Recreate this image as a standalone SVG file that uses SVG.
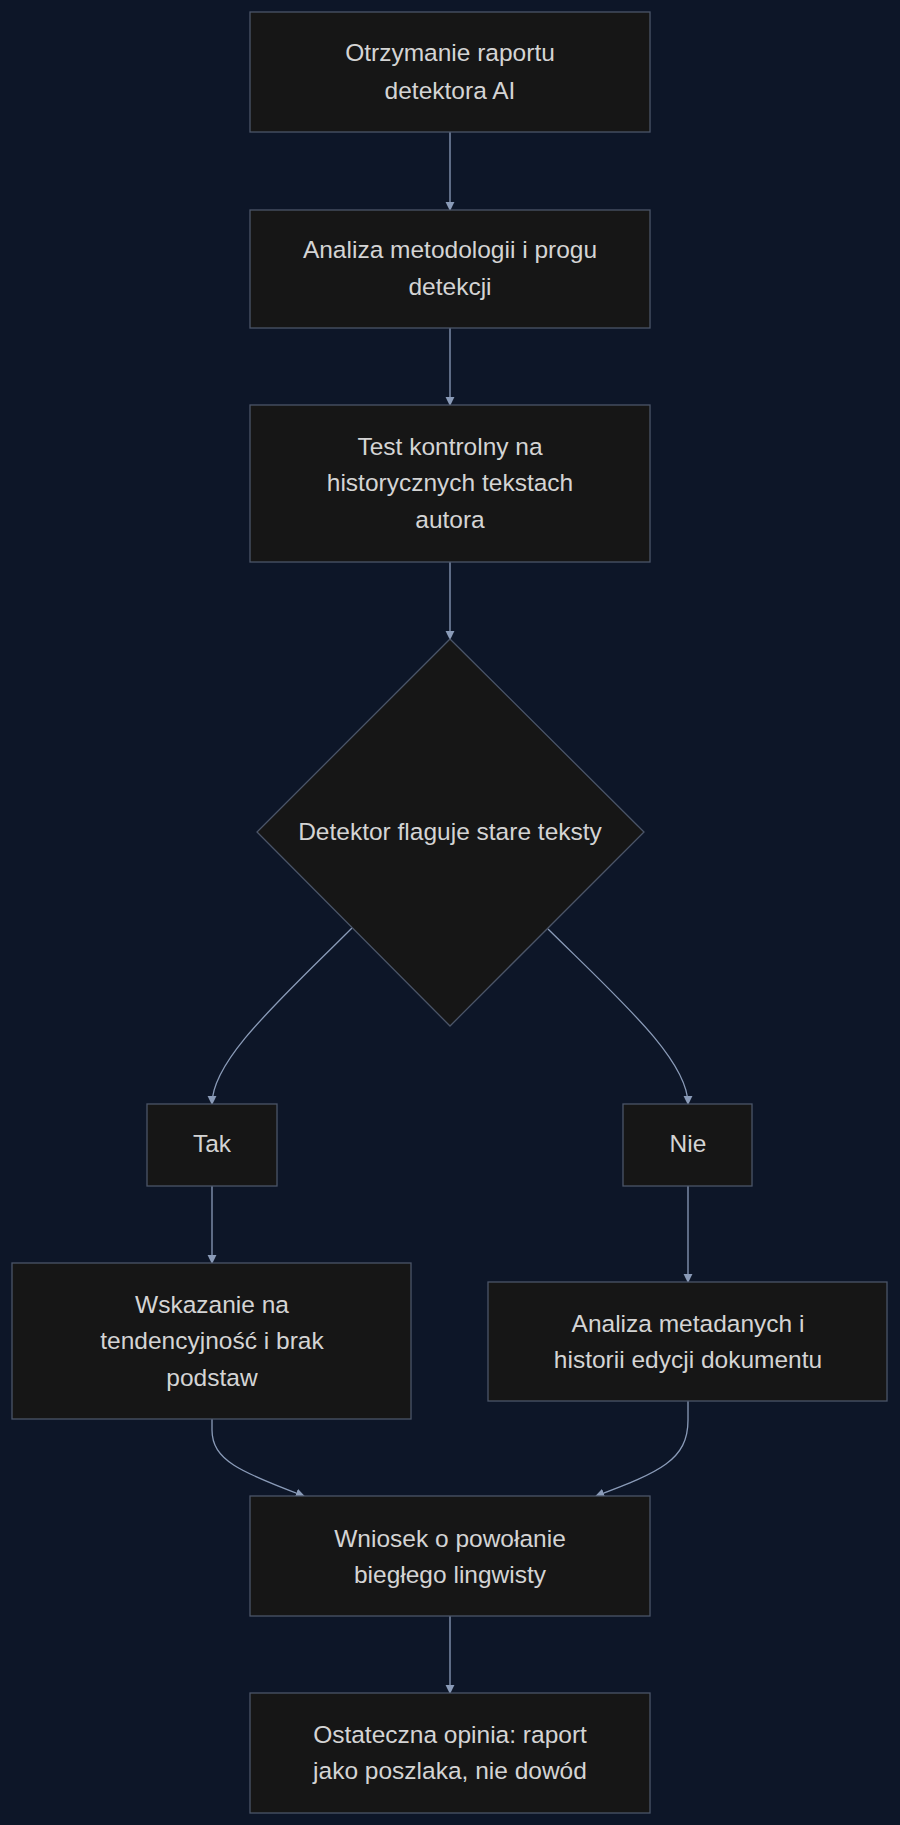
<svg xmlns="http://www.w3.org/2000/svg" width="900" height="1825" viewBox="0 0 900 1825">
<style>
.n{fill:#161616;stroke:#4b5568;stroke-width:1.3}
.t{font-family:"Liberation Sans",Arial,sans-serif;font-size:24.5px;fill:#d4d4d4;text-anchor:middle;dominant-baseline:central}
.e{fill:none;stroke:#8a9bb8;stroke-width:1.3;marker-end:url(#a)}
</style>
<defs><marker id="a" viewBox="0 0 10 10" refX="9" refY="5" markerWidth="7" markerHeight="7" orient="auto"><path d="M0,0L10,5L0,10z" fill="#8a9bb8"/></marker></defs>
<rect width="900" height="1825" fill="#0d1628"/>
<g id="edges">
<path class="e" d="M450,132V210"/>
<path class="e" d="M450,328V405"/>
<path class="e" d="M450,562V639"/>
<path class="e" d="M352,928C280,1000 212,1060 212,1104"/>
<path class="e" d="M548,929C620,1000 688,1060 688,1104"/>
<path class="e" d="M212,1186V1263"/>
<path class="e" d="M688,1186V1282"/>
<path class="e" d="M212,1419V1430C212,1460 240,1472 304,1496"/>
<path class="e" d="M688,1401V1420C688,1460 660,1472 596,1496"/>
<path class="e" d="M450,1616V1693"/>
</g>
<g id="n1"><rect class="n" x="250" y="12" width="400" height="120"/><text class="t" x="450" y="52">Otrzymanie raportu</text><text class="t" x="450" y="90">detektora AI</text></g>
<g id="n2"><rect class="n" x="250" y="210" width="400" height="118"/><text class="t" x="450" y="249">Analiza metodologii i progu</text><text class="t" x="450" y="286">detekcji</text></g>
<g id="n3"><rect class="n" x="250" y="405" width="400" height="157"/><text class="t" x="450" y="446">Test kontrolny na</text><text class="t" x="450" y="482">historycznych tekstach</text><text class="t" x="450" y="519">autora</text></g>
<g id="d"><polygon class="n" points="450,639 644,832 450,1026 257,832"/><text class="t" x="450" y="831">Detektor flaguje stare teksty</text></g>
<g id="tak"><rect class="n" x="147" y="1104" width="130" height="82"/><text class="t" x="212" y="1143">Tak</text></g>
<g id="nie"><rect class="n" x="623" y="1104" width="129" height="82"/><text class="t" x="688" y="1143">Nie</text></g>
<g id="w"><rect class="n" x="12" y="1263" width="399" height="156"/><text class="t" x="212" y="1304">Wskazanie na</text><text class="t" x="212" y="1340">tendencyjność i brak</text><text class="t" x="212" y="1377">podstaw</text></g>
<g id="am"><rect class="n" x="488" y="1282" width="399" height="119"/><text class="t" x="688" y="1323">Analiza metadanych i</text><text class="t" x="688" y="1359">historii edycji dokumentu</text></g>
<g id="wn"><rect class="n" x="250" y="1496" width="400" height="120"/><text class="t" x="450" y="1538">Wniosek o powołanie</text><text class="t" x="450" y="1574">biegłego lingwisty</text></g>
<g id="o"><rect class="n" x="250" y="1693" width="400" height="120"/><text class="t" x="450" y="1734">Ostateczna opinia: raport</text><text class="t" x="450" y="1770">jako poszlaka, nie dowód</text></g>
</svg>
